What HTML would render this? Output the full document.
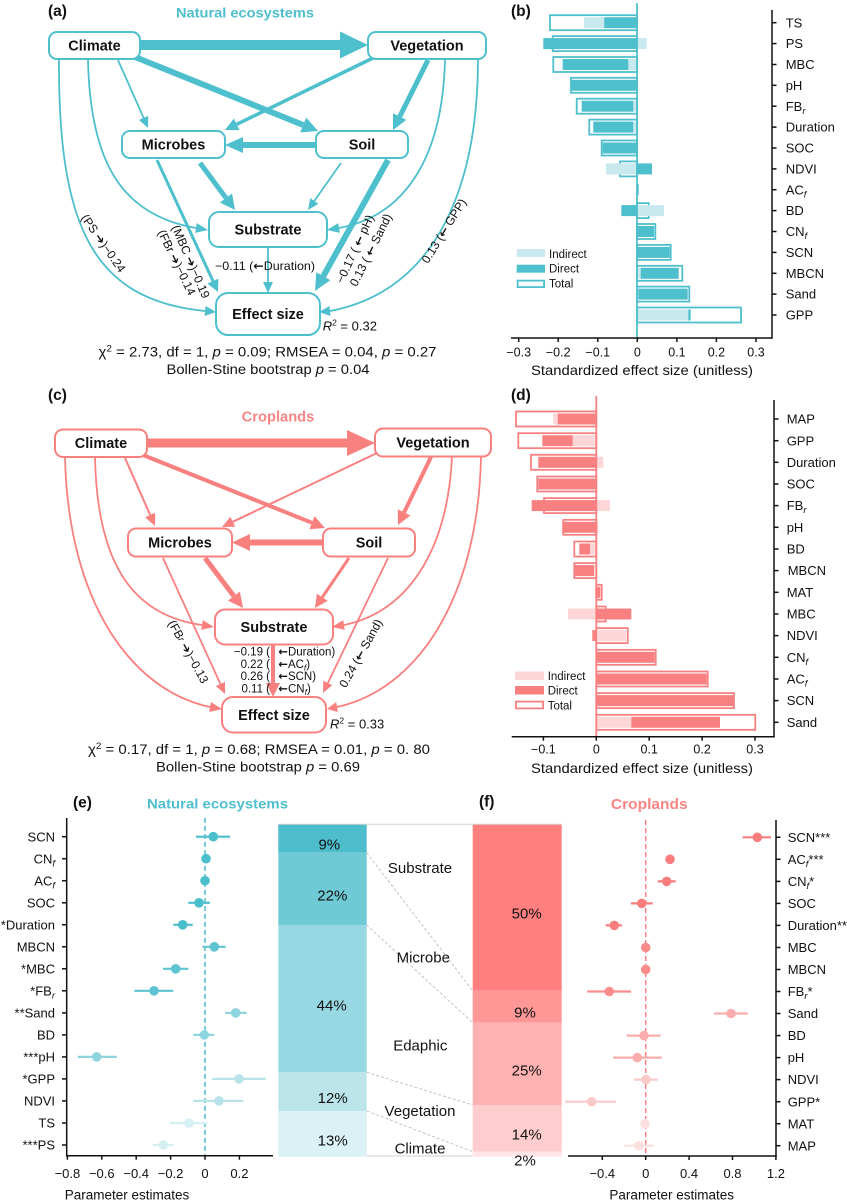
<!DOCTYPE html>
<html><head><meta charset="utf-8"><style>
html,body{margin:0;padding:0;background:#fff;}
svg{display:block;font-family:"Liberation Sans",Arial,sans-serif;}
.ar{font-family:"DejaVu Sans","Liberation Sans",sans-serif;font-weight:bold;}
</style></head><body>
<svg width="847" height="1204" viewBox="0 0 847 1204" xmlns="http://www.w3.org/2000/svg">
<rect width="847" height="1204" fill="#fff"/>

<!-- ================= PANEL A ================= -->
<g stroke="#4ebfcd" fill="none" stroke-linecap="butt">
<line x1="140" y1="45" x2="341" y2="45" stroke-width="10"/>
<line x1="135" y1="57" x2="303.2" y2="125" stroke-width="6"/>
<line x1="373" y1="58" x2="236.7" y2="124.3" stroke-width="3.5"/>
<line x1="428" y1="60" x2="399.7" y2="116.6" stroke-width="5"/>
<line x1="118" y1="60" x2="143.6" y2="117.9" stroke-width="1.8"/>
<line x1="316" y1="145" x2="243" y2="145" stroke-width="6"/>
<line x1="200" y1="163" x2="226" y2="198" stroke-width="5"/>
<line x1="341" y1="163" x2="314.3" y2="201" stroke-width="1.8"/>
<line x1="157" y1="160" x2="213" y2="281.1" stroke-width="3"/>
<line x1="388" y1="160" x2="323.3" y2="276.2" stroke-width="6"/>
<line x1="268" y1="247" x2="268" y2="282" stroke-width="1.8"/>
<path d="M59,59 C58,230 95,300 205,311" stroke-width="1.8"/>
<path d="M88,59 C90,160 120,215 196,228" stroke-width="1.8"/>
<path d="M445,59 C443,150 410,215 339,228" stroke-width="1.8"/>
<path d="M478,59 C478,180 440,290 330,311" stroke-width="1.8"/>
</g>
<g fill="#fff" stroke="#4ebfcd" stroke-width="2">
<rect x="49" y="32" width="91" height="27" rx="8"/>
<rect x="368" y="32" width="118" height="27" rx="8"/>
<rect x="122" y="131" width="103" height="27" rx="8"/>
<rect x="316" y="131" width="92" height="27" rx="8"/>
<rect x="209" y="212" width="118" height="35" rx="10"/>
<rect x="216" y="293" width="104" height="42" rx="12"/>
</g>
<g fill="#4ebfcd">
<polygon points="340,31.5 368,45 340,58.5"/>
<polygon points="300.2,132.4 318,131 306.2,117.6"/>
<polygon points="233.9,118.5 225,130 239.5,130.1"/>
<polygon points="393,113.2 393,130 406.4,119.9"/>
<polygon points="139,119.9 148,128 148.2,115.9"/>
<polygon points="243,137 225,145 243,153"/>
<polygon points="220,202.5 235,210 232,193.5"/>
<polygon points="310.2,198.1 308,210 318.4,203.9"/>
<polygon points="207.5,283.6 218,292 218.4,278.6"/>
<polygon points="316.3,272.3 315,291 330.3,280.1"/>
<polygon points="263,282 268,293 273,282"/>
<polygon points="204.5,316 216,312 205.5,306"/>
<polygon points="195.2,232.9 208,230 196.8,223.1"/>
<polygon points="339.8,232.9 327,230 338.2,223.1"/>
<polygon points="330.5,316 319,312 329.5,306"/>
</g>
<g fill="#111">
<text x="48" y="16" font-size="15.5" font-weight="bold">(a)</text>
<text x="245" y="17.5" font-size="14" font-weight="bold" fill="#4ebfcd" text-anchor="middle" textLength="138" lengthAdjust="spacingAndGlyphs">Natural ecosystems</text>
<g font-size="14.5" font-weight="bold" text-anchor="middle">
<text x="94.5" y="50.5">Climate</text>
<text x="427" y="50.5">Vegetation</text>
<text x="173.5" y="149.7">Microbes</text>
<text x="362" y="149.7">Soil</text>
<text x="268" y="234.7">Substrate</text>
<text x="268" y="319.2">Effect size</text>
</g>
<g font-size="12" text-anchor="middle" dominant-baseline="central">
<text transform="translate(103.3,243.3) rotate(55)">(PS <tspan class="ar">➔</tspan>)−0.24</text>
<text transform="translate(190.8,261.7) rotate(66.6)">(MBC <tspan class="ar">➔</tspan>)−0.19</text>
<text transform="translate(176.7,262.5) rotate(64)">(FBr <tspan class="ar">➔</tspan>)−0.14</text>
<text transform="translate(355,249) rotate(-65)">−0.17 ( <tspan class="ar">←</tspan> pH)</text>
<text transform="translate(370.8,250) rotate(-63.4)">0.13 ( <tspan class="ar">←</tspan> Sand)</text>
<text transform="translate(444,231) rotate(-58)">0.13 (<tspan class="ar">←</tspan> GPP)</text>
</g>
<text x="215" y="270" font-size="12" textLength="100" lengthAdjust="spacingAndGlyphs">−0.11  (<tspan class="ar">←</tspan>Duration)</text>
<text x="322.7" y="330.5" font-size="13"><tspan font-style="italic">R</tspan><tspan font-size="8.5" dy="-5">2</tspan><tspan dy="5"> = 0.32</tspan></text>
<text x="267.5" y="356.5" font-size="13.5" text-anchor="middle" textLength="338" lengthAdjust="spacingAndGlyphs">χ<tspan font-size="9" dy="-5">2</tspan><tspan dy="5"> = 2.73, df = 1,  </tspan><tspan font-style="italic">p</tspan> = 0.09; RMSEA = 0.04,  <tspan font-style="italic">p</tspan> = 0.27</text>
<text x="268" y="374" font-size="13.5" text-anchor="middle" textLength="203" lengthAdjust="spacingAndGlyphs">Bollen-Stine bootstrap <tspan font-style="italic">p</tspan> = 0.04</text>
</g>

<!-- ================= PANEL B ================= -->
<g stroke="#4ebfcd" stroke-width="1.8" fill="#fff">
<rect x="550" y="15.2" width="87" height="15"/>
<rect x="552.7" y="36.1" width="84.3" height="15"/>
<rect x="553.3" y="57" width="83.7" height="15"/>
<rect x="571" y="77.8" width="66" height="15"/>
<rect x="576.7" y="98.7" width="60.3" height="15"/>
<rect x="589.3" y="119.6" width="47.7" height="15"/>
<rect x="601.7" y="140.5" width="35.3" height="15"/>
<rect x="620" y="161.4" width="17" height="15"/>
<rect x="637" y="203.1" width="11.7" height="15"/>
<rect x="637" y="224" width="18.3" height="15"/>
<rect x="637" y="244.9" width="33.7" height="15"/>
<rect x="637" y="265.8" width="45.3" height="15"/>
<rect x="637" y="286.6" width="52.3" height="15"/>
<rect x="637" y="307.5" width="104" height="15"/>
</g>
<g fill="#c8e9ee">
<rect x="584" y="17.2" width="20.2" height="11"/>
<rect x="637" y="38.1" width="9.7" height="11"/>
<rect x="628.3" y="59" width="8.7" height="11"/>
<rect x="633.3" y="100.7" width="3.7" height="11"/>
<rect x="633.3" y="121.6" width="3.7" height="11"/>
<rect x="606" y="163.4" width="31" height="11"/>
<rect x="637" y="205.1" width="27" height="11"/>
<rect x="637" y="267.8" width="3.7" height="11"/>
<rect x="637" y="288.6" width="1.3" height="11"/>
<rect x="637" y="309.5" width="51.3" height="11"/>
</g>
<g fill="#4ebfcd">
<rect x="604.2" y="17.2" width="32.8" height="11"/>
<rect x="543.3" y="38.1" width="93.7" height="11"/>
<rect x="562.7" y="59" width="65.6" height="11"/>
<rect x="571.7" y="79.8" width="65.3" height="11"/>
<rect x="581.7" y="100.7" width="51.6" height="11"/>
<rect x="593.3" y="121.6" width="40" height="11"/>
<rect x="602.7" y="142.5" width="34.3" height="11"/>
<rect x="637" y="163.4" width="15" height="11"/>
<rect x="637" y="184.2" width="1.7" height="11"/>
<rect x="621.3" y="205.1" width="15.7" height="11"/>
<rect x="637" y="226" width="17" height="11"/>
<rect x="637" y="246.9" width="32.7" height="11"/>
<rect x="640.7" y="267.8" width="38" height="11"/>
<rect x="638.3" y="288.6" width="49.4" height="11"/>
<rect x="688.3" y="309.5" width="2.4" height="11"/>
</g>
<line x1="637" y1="3" x2="637" y2="338" stroke="#4ebfcd" stroke-width="1.8"/>
<g stroke="#111" stroke-width="1.5">
<line x1="511" y1="338" x2="772.5" y2="338"/>
<line x1="772" y1="10" x2="772" y2="338.7"/>
<line x1="518.7" y1="338" x2="518.7" y2="342"/>
<line x1="558.2" y1="338" x2="558.2" y2="342"/>
<line x1="597.8" y1="338" x2="597.8" y2="342"/>
<line x1="637.3" y1="338" x2="637.3" y2="342"/>
<line x1="676.9" y1="338" x2="676.9" y2="342"/>
<line x1="716.4" y1="338" x2="716.4" y2="342"/>
<line x1="756" y1="338" x2="756" y2="342"/>
<line x1="772" y1="22.7" x2="776.5" y2="22.7"/>
<line x1="772" y1="43.6" x2="776.5" y2="43.6"/>
<line x1="772" y1="64.5" x2="776.5" y2="64.5"/>
<line x1="772" y1="85.3" x2="776.5" y2="85.3"/>
<line x1="772" y1="106.2" x2="776.5" y2="106.2"/>
<line x1="772" y1="127.1" x2="776.5" y2="127.1"/>
<line x1="772" y1="148" x2="776.5" y2="148"/>
<line x1="772" y1="168.9" x2="776.5" y2="168.9"/>
<line x1="772" y1="189.7" x2="776.5" y2="189.7"/>
<line x1="772" y1="210.6" x2="776.5" y2="210.6"/>
<line x1="772" y1="231.5" x2="776.5" y2="231.5"/>
<line x1="772" y1="252.4" x2="776.5" y2="252.4"/>
<line x1="772" y1="273.3" x2="776.5" y2="273.3"/>
<line x1="772" y1="294.1" x2="776.5" y2="294.1"/>
<line x1="772" y1="315" x2="776.5" y2="315"/>
</g>
<g fill="#111">
<text x="511" y="16" font-size="15.5" font-weight="bold">(b)</text>
<g font-size="13">
<text x="785.7" y="27.3">TS</text>
<text x="785.7" y="48.2">PS</text>
<text x="785.7" y="69.1">MBC</text>
<text x="785.7" y="89.9">pH</text>
<text x="785.7" y="110.8">FB<tspan font-size="9.5" font-style="italic" dy="3">r</tspan></text>
<text x="785.7" y="131.7">Duration</text>
<text x="785.7" y="152.6">SOC</text>
<text x="785.7" y="173.5">NDVI</text>
<text x="785.7" y="194.3">AC<tspan font-size="9.5" font-style="italic" dy="3">f</tspan></text>
<text x="785.7" y="215.2">BD</text>
<text x="785.7" y="236.1">CN<tspan font-size="9.5" font-style="italic" dy="3">f</tspan></text>
<text x="785.7" y="257">SCN</text>
<text x="785.7" y="277.9">MBCN</text>
<text x="785.7" y="298.7">Sand</text>
<text x="785.7" y="319.6">GPP</text>
</g>
<g font-size="12.5" text-anchor="middle">
<text x="518.7" y="356.5">−0.3</text>
<text x="558.2" y="356.5">−0.2</text>
<text x="597.8" y="356.5">−0.1</text>
<text x="637.3" y="356.5">0</text>
<text x="676.9" y="356.5">0.1</text>
<text x="716.4" y="356.5">0.2</text>
<text x="756" y="356.5">0.3</text>
</g>
<text x="642" y="375" font-size="14" text-anchor="middle" textLength="222" lengthAdjust="spacingAndGlyphs">Standardized effect size (unitless)</text>
<g font-size="11.5">
<text x="549" y="258">Indirect</text>
<text x="549" y="272.7">Direct</text>
<text x="549" y="287.7">Total</text>
</g>
</g>
<rect x="516.7" y="249" width="28.3" height="8" fill="#c8e9ee"/>
<rect x="516.7" y="264.7" width="28.3" height="8" fill="#4ebfcd"/>
<rect x="517.6" y="280.6" width="26.5" height="6.5" fill="#fff" stroke="#4ebfcd" stroke-width="1.8"/>

<!-- ================= PANEL C ================= -->
<g stroke="#f8807f" fill="none">
<line x1="147" y1="443" x2="348" y2="443" stroke-width="9"/>
<line x1="143" y1="455" x2="312" y2="522.8" stroke-width="4"/>
<line x1="377" y1="453" x2="232.8" y2="521.8" stroke-width="2"/>
<line x1="431" y1="457" x2="404.1" y2="512.4" stroke-width="4"/>
<line x1="125" y1="458" x2="150.2" y2="515" stroke-width="2"/>
<line x1="323" y1="542.5" x2="250" y2="542.5" stroke-width="6"/>
<line x1="205" y1="558" x2="233.9" y2="596.1" stroke-width="5"/>
<line x1="349" y1="558" x2="322.3" y2="597.25" stroke-width="3"/>
<line x1="163" y1="558" x2="220.4" y2="684" stroke-width="1.8"/>
<line x1="388" y1="558" x2="327.8" y2="683.1" stroke-width="1.8"/>
<line x1="273" y1="644.5" x2="273" y2="683" stroke-width="4"/>
<path d="M65,457 C68,600 130,690 210,707" stroke-width="1.8"/>
<path d="M95,457 C97,560 130,615 202,625" stroke-width="1.8"/>
<path d="M452,457 C448,540 415,610 344,625" stroke-width="1.8"/>
<path d="M481,457 C478,600 416,690 337,707" stroke-width="1.8"/>
</g>
<g fill="#fff" stroke="#f8807f" stroke-width="2">
<rect x="55" y="429.5" width="92" height="27.5" rx="8"/>
<rect x="375" y="428.5" width="116" height="28" rx="8"/>
<rect x="128" y="528.5" width="104" height="28" rx="8"/>
<rect x="323" y="528.5" width="92" height="28" rx="8"/>
<rect x="215" y="609.5" width="118" height="35" rx="10"/>
<rect x="222" y="697" width="104" height="35.5" rx="11"/>
</g>
<g fill="#f8807f">
<polygon points="347,430 375,443 347,456"/>
<polygon points="309.4,529.3 325,528 314.6,516.3"/>
<polygon points="230.4,516.8 222,527 235.2,526.8"/>
<polygon points="397.8,509.3 398,525 410.4,515.5"/>
<polygon points="145.1,517.2 155,526 155.2,512.8"/>
<polygon points="250,534 232,542.5 250,551"/>
<polygon points="227.9,600.6 243,608 239.9,591.6"/>
<polygon points="316.9,593.6 315,608 327.7,600.9"/>
<polygon points="215.9,686.1 225,694 225,681.9"/>
<polygon points="323.3,680.9 323,693 332.3,685.3"/>
<polygon points="266,683 273,697 280,683"/>
<polygon points="209.2,712 222,709 210.8,702"/>
<polygon points="201.2,629.9 214,627 202.8,620.1"/>
<polygon points="344.8,629.9 332,627 343.2,620.1"/>
<polygon points="337.8,712 327,709 336.2,702"/>
</g>
<g fill="#111">
<text x="48" y="400" font-size="15.5" font-weight="bold">(c)</text>
<text x="278" y="421.7" font-size="14.5" font-weight="bold" fill="#fa8585" text-anchor="middle" textLength="72.7" lengthAdjust="spacingAndGlyphs">Croplands</text>
<g font-size="14.5" font-weight="bold" text-anchor="middle">
<text x="101" y="448.2">Climate</text>
<text x="433" y="447.7">Vegetation</text>
<text x="180" y="547.7">Microbes</text>
<text x="369" y="547.7">Soil</text>
<text x="274" y="632.2">Substrate</text>
<text x="274" y="719.9">Effect size</text>
</g>
<g font-size="12" text-anchor="middle" dominant-baseline="central">
<text transform="translate(188.3,651.7) rotate(61)">(FB<tspan font-size="9" font-style="italic">r</tspan> <tspan class="ar">➔</tspan>)−0.13</text>
<text transform="translate(360.8,653.3) rotate(-61)">0.24 (<tspan class="ar">←</tspan> Sand)</text>
</g>
<g font-size="11.5" text-anchor="end">
<text x="270" y="655.6">−0.19 (</text>
<text x="270" y="667.8">0.22 (</text>
<text x="270" y="680.2">0.26 (</text>
<text x="270" y="692.5">0.11 (</text>
</g>
<g font-size="11.5">
<text x="278.3" y="655.6"><tspan class="ar">←</tspan>Duration)</text>
<text x="278.3" y="667.8"><tspan class="ar">←</tspan>AC<tspan font-size="8.5" font-style="italic" dy="2.5">f</tspan><tspan dy="-2.5">)</tspan></text>
<text x="278.3" y="680.2"><tspan class="ar">←</tspan>SCN)</text>
<text x="278.3" y="692.5"><tspan class="ar">←</tspan>CN<tspan font-size="8.5" font-style="italic" dy="2.5">f</tspan><tspan dy="-2.5">)</tspan></text>
</g>
<text x="330" y="728.5" font-size="13"><tspan font-style="italic">R</tspan><tspan font-size="8.5" dy="-5">2</tspan><tspan dy="5"> = 0.33</tspan></text>
<text x="259" y="754" font-size="13.5" text-anchor="middle" textLength="342" lengthAdjust="spacingAndGlyphs">χ<tspan font-size="9" dy="-5">2</tspan><tspan dy="5"> = 0.17, df = 1,  </tspan><tspan font-style="italic">p</tspan> = 0.68; RMSEA = 0.01,  <tspan font-style="italic">p</tspan> = 0. 80</text>
<text x="258" y="771.5" font-size="13.5" text-anchor="middle" textLength="204" lengthAdjust="spacingAndGlyphs">Bollen-Stine bootstrap <tspan font-style="italic">p</tspan> = 0.69</text>
</g>

<!-- ================= PANEL D ================= -->
<g stroke="#f98080" stroke-width="1.8" fill="#fff">
<rect x="516" y="411.5" width="80.3" height="15"/>
<rect x="518.3" y="433.2" width="78" height="15"/>
<rect x="531" y="454.8" width="65.3" height="15"/>
<rect x="537.3" y="476.5" width="59" height="15"/>
<rect x="544" y="498.1" width="52.3" height="15"/>
<rect x="563.3" y="519.8" width="33" height="15"/>
<rect x="574.3" y="541.5" width="22" height="15"/>
<rect x="574.3" y="563.1" width="22" height="15"/>
<rect x="596.3" y="584.8" width="5.4" height="15"/>
<rect x="596.3" y="606.5" width="9.4" height="15"/>
<rect x="596.3" y="628.1" width="31.4" height="15"/>
<rect x="596.3" y="649.8" width="59.4" height="15"/>
<rect x="596.3" y="671.5" width="111.4" height="15"/>
<rect x="596.3" y="693.1" width="137.7" height="15"/>
<rect x="596.3" y="714.8" width="159" height="15"/>
</g>
<g fill="#fdd6d7">
<rect x="553.3" y="413.5" width="4.4" height="11"/>
<rect x="572.7" y="435.2" width="23.6" height="11"/>
<rect x="596.3" y="456.8" width="7" height="11"/>
<rect x="596.3" y="500.1" width="13.7" height="11"/>
<rect x="596.3" y="521.8" width="2" height="11"/>
<rect x="590" y="543.5" width="6.3" height="11"/>
<rect x="594.7" y="586.8" width="1.6" height="11"/>
<rect x="568" y="608.5" width="28.3" height="11"/>
<rect x="598" y="630.1" width="28" height="11"/>
<rect x="596.3" y="716.8" width="35" height="11"/>
</g>
<g fill="#f98080">
<rect x="557.7" y="413.5" width="38.6" height="11"/>
<rect x="542.3" y="435.2" width="30.4" height="11"/>
<rect x="538.3" y="456.8" width="58" height="11"/>
<rect x="538.3" y="478.5" width="58" height="11"/>
<rect x="531.7" y="500.1" width="64.6" height="11"/>
<rect x="562.3" y="521.8" width="34" height="11"/>
<rect x="579.3" y="543.5" width="10.7" height="11"/>
<rect x="575" y="565.1" width="19.3" height="11"/>
<rect x="596.3" y="586.8" width="4" height="11"/>
<rect x="596.3" y="608.5" width="35" height="11"/>
<rect x="592.3" y="630.1" width="4" height="11"/>
<rect x="596.3" y="651.8" width="58.4" height="11"/>
<rect x="596.3" y="673.5" width="110.4" height="11"/>
<rect x="596.3" y="695.1" width="136.7" height="11"/>
<rect x="631.3" y="716.8" width="88.7" height="11"/>
</g>
<line x1="596.3" y1="396" x2="596.3" y2="736.7" stroke="#f98080" stroke-width="1.8"/>
<g stroke="#111" stroke-width="1.5">
<line x1="511.7" y1="736.7" x2="774.7" y2="736.7"/>
<line x1="774" y1="400" x2="774" y2="737.4"/>
<line x1="543.4" y1="736.7" x2="543.4" y2="740.7"/>
<line x1="596.3" y1="736.7" x2="596.3" y2="740.7"/>
<line x1="649.2" y1="736.7" x2="649.2" y2="740.7"/>
<line x1="702.1" y1="736.7" x2="702.1" y2="740.7"/>
<line x1="755" y1="736.7" x2="755" y2="740.7"/>
<line x1="774" y1="419" x2="778.5" y2="419"/>
<line x1="774" y1="440.7" x2="778.5" y2="440.7"/>
<line x1="774" y1="462.3" x2="778.5" y2="462.3"/>
<line x1="774" y1="484" x2="778.5" y2="484"/>
<line x1="774" y1="505.6" x2="778.5" y2="505.6"/>
<line x1="774" y1="527.3" x2="778.5" y2="527.3"/>
<line x1="774" y1="549" x2="778.5" y2="549"/>
<line x1="774" y1="570.6" x2="778.5" y2="570.6"/>
<line x1="774" y1="592.3" x2="778.5" y2="592.3"/>
<line x1="774" y1="614" x2="778.5" y2="614"/>
<line x1="774" y1="635.6" x2="778.5" y2="635.6"/>
<line x1="774" y1="657.3" x2="778.5" y2="657.3"/>
<line x1="774" y1="679" x2="778.5" y2="679"/>
<line x1="774" y1="700.6" x2="778.5" y2="700.6"/>
<line x1="774" y1="722.3" x2="778.5" y2="722.3"/>
</g>
<g fill="#111">
<text x="511" y="400" font-size="15.5" font-weight="bold">(d)</text>
<g font-size="13">
<text x="786.7" y="423.6">MAP</text>
<text x="786.7" y="445.3">GPP</text>
<text x="786.7" y="466.9">Duration</text>
<text x="786.7" y="488.6">SOC</text>
<text x="786.7" y="510.2">FB<tspan font-size="9.5" font-style="italic" dy="3">r</tspan></text>
<text x="786.7" y="531.9">pH</text>
<text x="786.7" y="553.6">BD</text>
<text x="787.7" y="575.2">MBCN</text>
<text x="786.7" y="596.9">MAT</text>
<text x="786.7" y="618.6">MBC</text>
<text x="786.7" y="640.2">NDVI</text>
<text x="786.7" y="661.9">CN<tspan font-size="9.5" font-style="italic" dy="3">f</tspan></text>
<text x="786.7" y="683.6">AC<tspan font-size="9.5" font-style="italic" dy="3">f</tspan></text>
<text x="786.7" y="705.2">SCN</text>
<text x="786.7" y="726.9">Sand</text>
</g>
<g font-size="12.5" text-anchor="middle">
<text x="543.4" y="753.5">−0.1</text>
<text x="596.3" y="753.5">0</text>
<text x="649.2" y="753.5">0.1</text>
<text x="702.1" y="753.5">0.2</text>
<text x="755" y="753.5">0.3</text>
</g>
<text x="642" y="773" font-size="14" text-anchor="middle" textLength="222" lengthAdjust="spacingAndGlyphs">Standardized effect size (unitless)</text>
<g font-size="11.5">
<text x="547.7" y="680">Indirect</text>
<text x="547.7" y="694.6">Direct</text>
<text x="547.7" y="709.3">Total</text>
</g>
</g>
<rect x="515" y="671.5" width="29" height="8.5" fill="#fdd6d7"/>
<rect x="515" y="686" width="29" height="8.5" fill="#f98080"/>
<rect x="515.9" y="701.6" width="27.2" height="6.8" fill="#fff" stroke="#f98080" stroke-width="1.8"/>

<!-- ================= PANEL E ================= -->
<line x1="205" y1="818" x2="205" y2="1155.7" stroke="#4ebfcd" stroke-width="1.5" stroke-dasharray="5,3"/>
<g stroke-width="2.2">
<line x1="196" y1="836.7" x2="230" y2="836.7" stroke="#4bbecc"/>
<line x1="188.3" y1="902.8" x2="210" y2="902.8" stroke="#4bbecc"/>
<line x1="173.3" y1="924.8" x2="192.7" y2="924.8" stroke="#4bbecc"/>
<line x1="202.7" y1="946.8" x2="225.7" y2="946.8" stroke="#5ec4d1"/>
<line x1="163" y1="968.8" x2="188.3" y2="968.8" stroke="#5ec4d1"/>
<line x1="134.3" y1="990.8" x2="173.3" y2="990.8" stroke="#5ec4d1"/>
<line x1="225" y1="1012.9" x2="246.7" y2="1012.9" stroke="#8fd5df"/>
<line x1="193.3" y1="1034.9" x2="214.3" y2="1034.9" stroke="#8fd5df"/>
<line x1="77.7" y1="1056.9" x2="116.7" y2="1056.9" stroke="#8fd5df"/>
<line x1="212.3" y1="1078.9" x2="265.7" y2="1078.9" stroke="#b7e3e9"/>
<line x1="193.3" y1="1100.9" x2="243.3" y2="1100.9" stroke="#b7e3e9"/>
<line x1="170" y1="1123" x2="207.3" y2="1123" stroke="#d6eff3"/>
<line x1="152.7" y1="1145" x2="173.3" y2="1145" stroke="#d6eff3"/>
</g>
<g>
<circle cx="213.3" cy="836.7" r="4.8" fill="#4bbecc"/>
<circle cx="206" cy="858.7" r="4.8" fill="#4bbecc"/>
<circle cx="205" cy="880.7" r="4.8" fill="#4bbecc"/>
<circle cx="199" cy="902.8" r="4.8" fill="#4bbecc"/>
<circle cx="182.7" cy="924.8" r="4.8" fill="#4bbecc"/>
<circle cx="214.3" cy="946.8" r="4.8" fill="#5ec4d1"/>
<circle cx="175.7" cy="968.8" r="4.8" fill="#5ec4d1"/>
<circle cx="154" cy="990.8" r="4.8" fill="#5ec4d1"/>
<circle cx="235.7" cy="1012.9" r="4.8" fill="#8fd5df"/>
<circle cx="204.3" cy="1034.9" r="4.8" fill="#8fd5df"/>
<circle cx="96.7" cy="1056.9" r="4.8" fill="#8fd5df"/>
<circle cx="239" cy="1078.9" r="4.8" fill="#b7e3e9"/>
<circle cx="219" cy="1100.9" r="4.8" fill="#b7e3e9"/>
<circle cx="189" cy="1123" r="4.8" fill="#d6eff3"/>
<circle cx="163.3" cy="1145" r="4.8" fill="#d6eff3"/>
</g>
<g stroke="#111" stroke-width="1.5">
<line x1="66.7" y1="818" x2="66.7" y2="1156.4"/>
<line x1="66" y1="1155.7" x2="273" y2="1155.7"/>
<line x1="67.4" y1="1155.7" x2="67.4" y2="1159.7"/>
<line x1="101.8" y1="1155.7" x2="101.8" y2="1159.7"/>
<line x1="136.2" y1="1155.7" x2="136.2" y2="1159.7"/>
<line x1="170.6" y1="1155.7" x2="170.6" y2="1159.7"/>
<line x1="205" y1="1155.7" x2="205" y2="1159.7"/>
<line x1="239.4" y1="1155.7" x2="239.4" y2="1159.7"/>
<line x1="62" y1="836.7" x2="66.7" y2="836.7"/>
<line x1="62" y1="858.7" x2="66.7" y2="858.7"/>
<line x1="62" y1="880.7" x2="66.7" y2="880.7"/>
<line x1="62" y1="902.8" x2="66.7" y2="902.8"/>
<line x1="62" y1="924.8" x2="66.7" y2="924.8"/>
<line x1="62" y1="946.8" x2="66.7" y2="946.8"/>
<line x1="62" y1="968.8" x2="66.7" y2="968.8"/>
<line x1="62" y1="990.8" x2="66.7" y2="990.8"/>
<line x1="62" y1="1012.9" x2="66.7" y2="1012.9"/>
<line x1="62" y1="1034.9" x2="66.7" y2="1034.9"/>
<line x1="62" y1="1056.9" x2="66.7" y2="1056.9"/>
<line x1="62" y1="1078.9" x2="66.7" y2="1078.9"/>
<line x1="62" y1="1100.9" x2="66.7" y2="1100.9"/>
<line x1="62" y1="1123" x2="66.7" y2="1123"/>
<line x1="62" y1="1145" x2="66.7" y2="1145"/>
</g>
<g fill="#111">
<text x="73" y="807.5" font-size="15.5" font-weight="bold">(e)</text>
<text x="217.5" y="808.5" font-size="14" font-weight="bold" fill="#4ebfcd" text-anchor="middle" textLength="141" lengthAdjust="spacingAndGlyphs">Natural ecosystems</text>
<g font-size="13" text-anchor="end">
<text x="55" y="841.3">SCN</text>
<text x="55" y="863.3">CN<tspan font-size="9.5" font-style="italic" dy="3">f</tspan></text>
<text x="55" y="885.3">AC<tspan font-size="9.5" font-style="italic" dy="3">f</tspan></text>
<text x="55" y="907.4">SOC</text>
<text x="55" y="929.4">*Duration</text>
<text x="55" y="951.4">MBCN</text>
<text x="55" y="973.4">*MBC</text>
<text x="55" y="995.4">*FB<tspan font-size="9.5" font-style="italic" dy="3">r</tspan></text>
<text x="55" y="1017.5">**Sand</text>
<text x="55" y="1039.5">BD</text>
<text x="55" y="1061.5">***pH</text>
<text x="55" y="1083.5">*GPP</text>
<text x="55" y="1105.5">NDVI</text>
<text x="55" y="1127.6">TS</text>
<text x="55" y="1149.6">***PS</text>
</g>
<g font-size="13" text-anchor="middle">
<text x="67.4" y="1178">−0.8</text>
<text x="101.8" y="1178">−0.6</text>
<text x="136.2" y="1178">−0.4</text>
<text x="170.6" y="1178">−0.2</text>
<text x="205" y="1178">0</text>
<text x="239.4" y="1178">0.2</text>
</g>
<text x="127" y="1199.5" font-size="13.5" text-anchor="middle">Parameter estimates</text>
</g>

<!-- ================= MIDDLE STACKED BARS ================= -->
<rect x="278.3" y="824.3" width="88.4" height="28.4" fill="#4dbdcb"/>
<rect x="278.3" y="852.7" width="88.4" height="72.3" fill="#6fcad6"/>
<rect x="278.3" y="925" width="88.4" height="147.3" fill="#98d8e2"/>
<rect x="278.3" y="1072.3" width="88.4" height="38.7" fill="#bbe5eb"/>
<rect x="278.3" y="1111" width="88.4" height="45.7" fill="#daf1f5"/>
<rect x="472.7" y="824.3" width="89" height="166.4" fill="#ff7f7f"/>
<rect x="472.7" y="990.7" width="89" height="32" fill="#ff9797"/>
<rect x="472.7" y="1022.7" width="89" height="82.3" fill="#ffb2b2"/>
<rect x="472.7" y="1105" width="89" height="46.7" fill="#ffcdcd"/>
<rect x="472.7" y="1151.7" width="89" height="5" fill="#ffe5e5"/>
<g stroke="#d0d0d0" stroke-width="1">
<line x1="278.3" y1="824.3" x2="561.7" y2="824.3"/>
<line x1="366.7" y1="1156" x2="472.7" y2="1156"/>
</g>
<g stroke="#c4c4c4" stroke-width="1" stroke-dasharray="3,2">
<line x1="366.7" y1="852.7" x2="472.7" y2="990.7"/>
<line x1="366.7" y1="925" x2="472.7" y2="1022.7"/>
<line x1="366.7" y1="1072.3" x2="472.7" y2="1105"/>
<line x1="366.7" y1="1111" x2="472.7" y2="1151.7"/>
</g>
<g fill="#111" font-size="15" text-anchor="middle">
<text x="329.3" y="849.3">9%</text>
<text x="332.3" y="900.3">22%</text>
<text x="331.7" y="1010.3">44%</text>
<text x="332.7" y="1103">12%</text>
<text x="332.7" y="1145.6">13%</text>
<text x="526.7" y="918.6">50%</text>
<text x="525" y="1017.6">9%</text>
<text x="526.7" y="1075.3">25%</text>
<text x="526.7" y="1139.3">14%</text>
<text x="525" y="1165.3">2%</text>
<text x="420" y="873">Substrate</text>
<text x="423.3" y="962.6">Microbe</text>
<text x="420.3" y="1050.3">Edaphic</text>
<text x="420" y="1116">Vegetation</text>
<text x="420" y="1153.6">Climate</text>
<text x="486.7" y="806.5" font-size="15.5" font-weight="bold">(f)</text>
</g>

<!-- ================= PANEL F ================= -->
<line x1="645.7" y1="820" x2="645.7" y2="1156" stroke="#f98080" stroke-width="1.5" stroke-dasharray="5,3"/>
<g stroke-width="2.2">
<line x1="742.7" y1="837.3" x2="771" y2="837.3" stroke="#f97d7d"/>
<line x1="666" y1="859.3" x2="674" y2="859.3" stroke="#f97d7d"/>
<line x1="657.7" y1="881.4" x2="675.7" y2="881.4" stroke="#f97d7d"/>
<line x1="631" y1="903.4" x2="652.7" y2="903.4" stroke="#f97d7d"/>
<line x1="605.7" y1="925.4" x2="622" y2="925.4" stroke="#f97d7d"/>
<line x1="587.3" y1="991.5" x2="631" y2="991.5" stroke="#fa8c8c"/>
<line x1="714" y1="1013.5" x2="747.7" y2="1013.5" stroke="#fbadad"/>
<line x1="626.7" y1="1035.6" x2="660.7" y2="1035.6" stroke="#fbadad"/>
<line x1="613.3" y1="1057.6" x2="661.7" y2="1057.6" stroke="#fbadad"/>
<line x1="634" y1="1079.6" x2="657.7" y2="1079.6" stroke="#fcc9c9"/>
<line x1="565" y1="1101.7" x2="616" y2="1101.7" stroke="#fcc9c9"/>
<line x1="624.3" y1="1145.7" x2="654" y2="1145.7" stroke="#fde0e0"/>
</g>
<g>
<circle cx="757.3" cy="837.3" r="4.8" fill="#f97d7d"/>
<circle cx="670" cy="859.3" r="4.8" fill="#f97d7d"/>
<circle cx="666.7" cy="881.4" r="4.8" fill="#f97d7d"/>
<circle cx="641.7" cy="903.4" r="4.8" fill="#f97d7d"/>
<circle cx="614.3" cy="925.4" r="4.8" fill="#f97d7d"/>
<circle cx="645.7" cy="947.5" r="4.8" fill="#fa8c8c"/>
<circle cx="645.7" cy="969.5" r="4.8" fill="#fa8c8c"/>
<circle cx="609.3" cy="991.5" r="4.8" fill="#fa8c8c"/>
<circle cx="731" cy="1013.5" r="4.8" fill="#fbadad"/>
<circle cx="644" cy="1035.6" r="4.8" fill="#fbadad"/>
<circle cx="637.3" cy="1057.6" r="4.8" fill="#fbadad"/>
<circle cx="646" cy="1079.6" r="4.8" fill="#fcc9c9"/>
<circle cx="591.7" cy="1101.7" r="4.8" fill="#fcc9c9"/>
<circle cx="645" cy="1123.7" r="4.8" fill="#fde0e0"/>
<circle cx="639" cy="1145.7" r="4.8" fill="#fde0e0"/>
</g>
<g stroke="#111" stroke-width="1.5">
<line x1="776" y1="820" x2="776" y2="1156.7"/>
<line x1="568" y1="1156" x2="776.7" y2="1156"/>
<line x1="602.3" y1="1156" x2="602.3" y2="1160"/>
<line x1="645.7" y1="1156" x2="645.7" y2="1160"/>
<line x1="689.1" y1="1156" x2="689.1" y2="1160"/>
<line x1="732.5" y1="1156" x2="732.5" y2="1160"/>
<line x1="775.9" y1="1156" x2="775.9" y2="1160"/>
<line x1="776" y1="837.3" x2="780.5" y2="837.3"/>
<line x1="776" y1="859.3" x2="780.5" y2="859.3"/>
<line x1="776" y1="881.4" x2="780.5" y2="881.4"/>
<line x1="776" y1="903.4" x2="780.5" y2="903.4"/>
<line x1="776" y1="925.4" x2="780.5" y2="925.4"/>
<line x1="776" y1="947.5" x2="780.5" y2="947.5"/>
<line x1="776" y1="969.5" x2="780.5" y2="969.5"/>
<line x1="776" y1="991.5" x2="780.5" y2="991.5"/>
<line x1="776" y1="1013.5" x2="780.5" y2="1013.5"/>
<line x1="776" y1="1035.6" x2="780.5" y2="1035.6"/>
<line x1="776" y1="1057.6" x2="780.5" y2="1057.6"/>
<line x1="776" y1="1079.6" x2="780.5" y2="1079.6"/>
<line x1="776" y1="1101.7" x2="780.5" y2="1101.7"/>
<line x1="776" y1="1123.7" x2="780.5" y2="1123.7"/>
<line x1="776" y1="1145.7" x2="780.5" y2="1145.7"/>
</g>
<g fill="#111">
<text x="649.3" y="809" font-size="15" font-weight="bold" fill="#fa8585" text-anchor="middle" textLength="76.7" lengthAdjust="spacingAndGlyphs">Croplands</text>
<g font-size="13">
<text x="787.7" y="841.9">SCN***</text>
<text x="787.7" y="863.9">AC<tspan font-size="9.5" font-style="italic" dy="3">f</tspan><tspan dy="-3">***</tspan></text>
<text x="787.7" y="886">CN<tspan font-size="9.5" font-style="italic" dy="3">f</tspan><tspan dy="-3">*</tspan></text>
<text x="787.7" y="908">SOC</text>
<text x="787.7" y="930">Duration**</text>
<text x="787.7" y="952.1">MBC</text>
<text x="787.7" y="974.1">MBCN</text>
<text x="787.7" y="996.1">FB<tspan font-size="9.5" font-style="italic" dy="3">r</tspan><tspan dy="-3">*</tspan></text>
<text x="787.7" y="1018.1">Sand</text>
<text x="787.7" y="1040.2">BD</text>
<text x="787.7" y="1062.2">pH</text>
<text x="787.7" y="1084.2">NDVI</text>
<text x="787.7" y="1106.3">GPP*</text>
<text x="787.7" y="1128.3">MAT</text>
<text x="787.7" y="1150.3">MAP</text>
</g>
<g font-size="13" text-anchor="middle">
<text x="602.3" y="1178">−0.4</text>
<text x="645.7" y="1178">0</text>
<text x="689.1" y="1178">0.4</text>
<text x="732.5" y="1178">0.8</text>
<text x="775.9" y="1178">1.2</text>
</g>
<text x="671.7" y="1199.5" font-size="13.5" text-anchor="middle">Parameter estimates</text>
</g>
</svg>
</body></html>
